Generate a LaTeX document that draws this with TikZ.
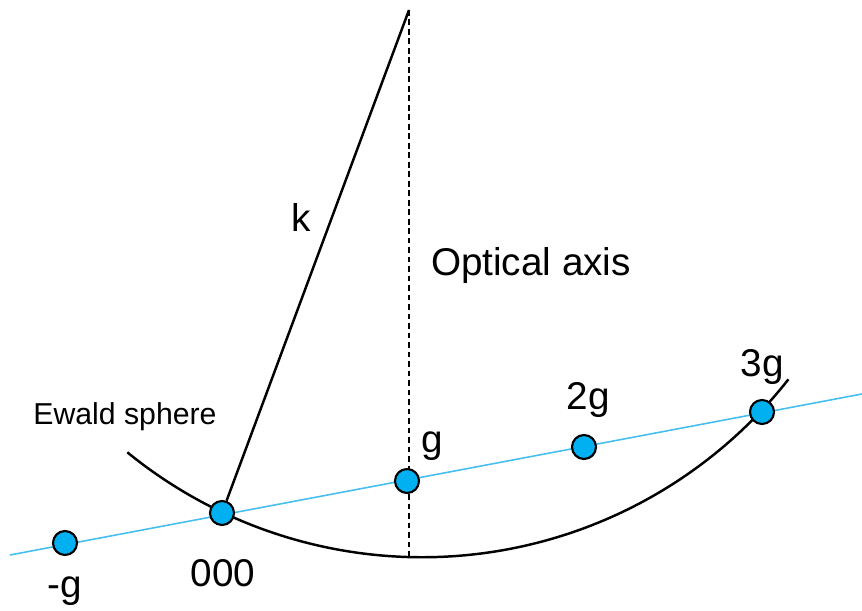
\documentclass[tikz,border=0pt]{standalone}
\usepackage{fontspec}
\setmainfont{Liberation Sans}
\definecolor{spotblue}{RGB}{0,176,240}
\definecolor{beamblue}{RGB}{70,190,240}

\begin{document}
\begin{tikzpicture}[x=0.01cm,y=0.01cm,
    spot/.style={circle,draw,fill=spotblue,inner sep=0pt,minimum size=0.24cm,line width=0.6pt},
    lbl/.style={anchor=base,font=\fontsize{11pt}{13pt}\selectfont,inner sep=0pt},
    beam/.style={beamblue,line width=0.45pt}]
      \useasboundingbox (0,0) rectangle (862,610);
      \coordinate (top) at (409,600);
      \coordinate (bot) at (409,53);
      \coordinate (lft) at (10,55);
      \coordinate (rgt) at (862,216);
      \coordinate (ctr) at (422,519);
      % lattice row and Ewald circle
      \draw[beam] (lft) -- (rgt);
      \draw[line width=0.7pt] (ctr) ++(230.8:4.66cm) arc[start angle=230.8,end angle=321.8,radius=4.66cm];
      \draw[line width=0.7pt,dash pattern=on 1.6pt off 1.1pt] (top) -- (bot);
      % reflections
      \node[spot] (pm) at (65,67) {};
      \node[spot] (p0) at (222,97) {};
      \node[spot] (p1) at (407,129) {};
      \node[spot] (p2) at (584,163) {};
      \node[spot] (p3) at (762,198) {};
      \draw[line width=0.7pt] (top) -- (p0);
      % labels
      \node[lbl] (tm) at (65,13) {-g};
      \node[lbl] (t0) at (223,24) {000};
      \node[lbl] (t1) at (432,157) {g};
      \node[lbl] (t2) at (588,200) {2g};
      \node[lbl] (t3) at (762,233) {3g};
      \node[lbl] (tk) at (301,378) {k};
      \node[lbl] (tax) at (531,334) {Optical axis};
      \node[lbl,font=\fontsize{8.6pt}{10pt}\selectfont] (tew) at (125,185) {Ewald sphere};
\end{tikzpicture}
\end{document}
